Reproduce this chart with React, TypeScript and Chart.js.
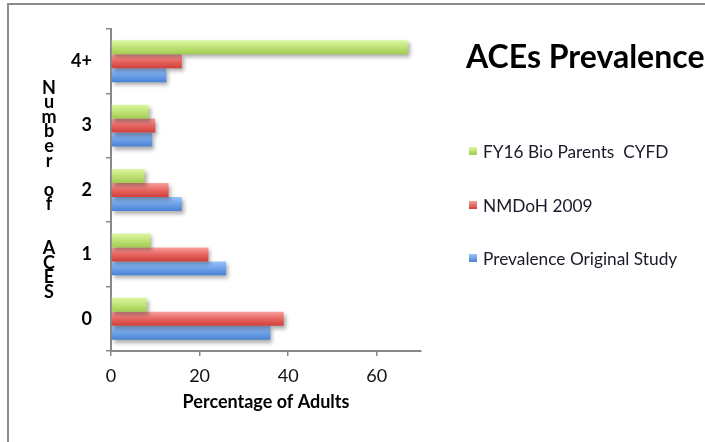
import { useEffect, useRef } from "react";
import { Chart, registerables } from "chart.js";

Chart.register(...registerables);

const categories = ["4+", "3", "2", "1", "0"];
const fy16BioParents = [67, 8.5, 7.6, 8.9, 8.1];
const nmdoh2009 = [16, 10, 13, 22, 39];
const prevalenceOriginal = [12.5, 9.3, 16, 26, 36];
const seriesNames = ["FY16 Bio Parents  CYFD", "NMDoH 2009", "Prevalence Original Study"];
const xTicks = [0, 20, 40, 60];
const xMax = 70;
const chartTitle = "ACEs Prevalence";
const yTitle = "Number of  ACES";
const xTitle = "Percentage of Adults";

const FONT = "Lato, 'Open Sans', sans-serif";
const CAT_PCT = 0.65;
const gradients: string[][] = [
  ["#dcf7a2", "#bfe276", "#a2cc50"],
  ["#f8a09d", "#e86662", "#cf3f3b"],
  ["#9cc2f8", "#6ea2ea", "#4a82d2"],
];

function barGradient(idx: number) {
  const stops = gradients[idx];
  return (ctx: any) => {
    const chart = ctx.chart;
    const y = chart.scales?.y;
    const area = chart.chartArea;
    if (!y || !area || ctx.type !== "data") return stops[1];
    const center = y.getPixelForValue(ctx.dataIndex);
    const cat = (area.bottom - area.top) / categories.length;
    const thick = (cat * CAT_PCT) / 3;
    const top = center - (cat * CAT_PCT) / 2 + ctx.datasetIndex * thick;
    const g = chart.ctx.createLinearGradient(0, top, 0, top + thick);
    g.addColorStop(0, stops[0]);
    g.addColorStop(0.5, stops[1]);
    g.addColorStop(1, stops[2]);
    return g;
  };
}

const shadowPlugin = {
  id: "barShadow",
  beforeDatasetsDraw(chart: any) {
    const c = chart.ctx;
    c.save();
    c.shadowColor = "rgba(0,0,0,0.32)";
    c.shadowBlur = 4;
    c.shadowOffsetX = 2;
    c.shadowOffsetY = 3;
  },
  afterDatasetsDraw(chart: any) {
    chart.ctx.restore();
  },
};

const decorPlugin = {
  id: "decor",
  afterDraw(chart: any) {
    const c: CanvasRenderingContext2D = chart.ctx;
    const area = chart.chartArea;
    c.save();
    // frame
    c.strokeStyle = "#8c8c8c";
    c.lineWidth = 2;
    c.beginPath();
    c.moveTo(8, 442);
    c.lineTo(8, 4);
    c.lineTo(706, 4);
    c.stroke();

    // title
    c.fillStyle = "#000";
    c.font = `bold 32px ${FONT}`;
    c.textAlign = "left";
    c.textBaseline = "middle";
    c.fillText(chartTitle, 466, 58);

    // legend
    const rows = [151, 205, 258];
    c.font = `17.3px ${FONT}`;
    seriesNames.forEach((name, i) => {
      const y = rows[i];
      const g = c.createLinearGradient(0, y - 4, 0, y + 4);
      g.addColorStop(0, gradients[i][0]);
      g.addColorStop(1, gradients[i][2]);
      c.fillStyle = g;
      c.fillRect(469, y - 4, 8, 8);
      c.fillStyle = "#1a1a2a";
      c.fillText(name, 483, y + 1);
    });

    // vertical y title
    c.font = `bold 18px ${FONT}`;
    c.textAlign = "center";
    c.fillStyle = "#000";
    const chars = yTitle.split("");
    const pitch = 14.6;
    const mid = (area.top + area.bottom) / 2;
    const start = mid - ((chars.length - 1) * pitch) / 2;
    chars.forEach((ch, i) => {
      if (ch !== " ") c.fillText(ch, 49, start + i * pitch);
    });
    c.restore();
  },
};

export default function App() {
  const ref = useRef<HTMLCanvasElement | null>(null);
  useEffect(() => {
    if (!ref.current) return;
    const chart = new Chart(ref.current, {
      type: "bar",
      data: {
        labels: categories,
        datasets: [
          { label: seriesNames[0], data: fy16BioParents, backgroundColor: barGradient(0) },
          { label: seriesNames[1], data: nmdoh2009, backgroundColor: barGradient(1) },
          { label: seriesNames[2], data: prevalenceOriginal, backgroundColor: barGradient(2) },
        ],
      },
      options: {
        indexAxis: "y",
        animation: false,
        responsive: true,
        maintainAspectRatio: false,
        devicePixelRatio: 1,
        layout: { padding: { left: 0, top: 29, right: 284, bottom: 0 } },
        datasets: { bar: { barPercentage: 1, categoryPercentage: CAT_PCT, clip: false as any } },
        plugins: {
          legend: { display: false },
          title: { display: false },
          tooltip: { enabled: false },
        },
        scales: {
          x: {
            type: "linear",
            min: 0,
            max: xMax,
            afterBuildTicks: (s: any) => {
              s.ticks = xTicks.map((v) => ({ value: v }));
            },
            afterFit: (s: any) => {
              s.height = 91;
            },
            grid: { drawOnChartArea: false, tickLength: 5, color: "#888", lineWidth: 1.5 },
            border: { color: "#888", width: 2 },
            ticks: { font: { family: FONT, size: 18 }, color: "#111", padding: 9, maxRotation: 0 },
            title: {
              display: true,
              text: xTitle,
              font: { family: FONT, size: 18, weight: "bold" },
              color: "#000",
              padding: { top: 0, bottom: 29 },
            },
          },
          y: {
            type: "category",
            afterFit: (s: any) => {
              s.width = 111;
            },
            grid: { drawOnChartArea: false, tickLength: 5, color: "#888", lineWidth: 1.5, offset: true },
            border: { color: "#888", width: 2 },
            ticks: { font: { family: FONT, size: 18, weight: "bold" }, color: "#000", padding: 14 },
          },
        },
      },
      plugins: [shadowPlugin, decorPlugin],
    });
    return () => chart.destroy();
  }, []);
  return (
    <div style={{ position: "fixed", left: 0, top: 0, width: 705, height: 442, background: "#fff" }}>
      <canvas ref={ref} />
    </div>
  );
}
